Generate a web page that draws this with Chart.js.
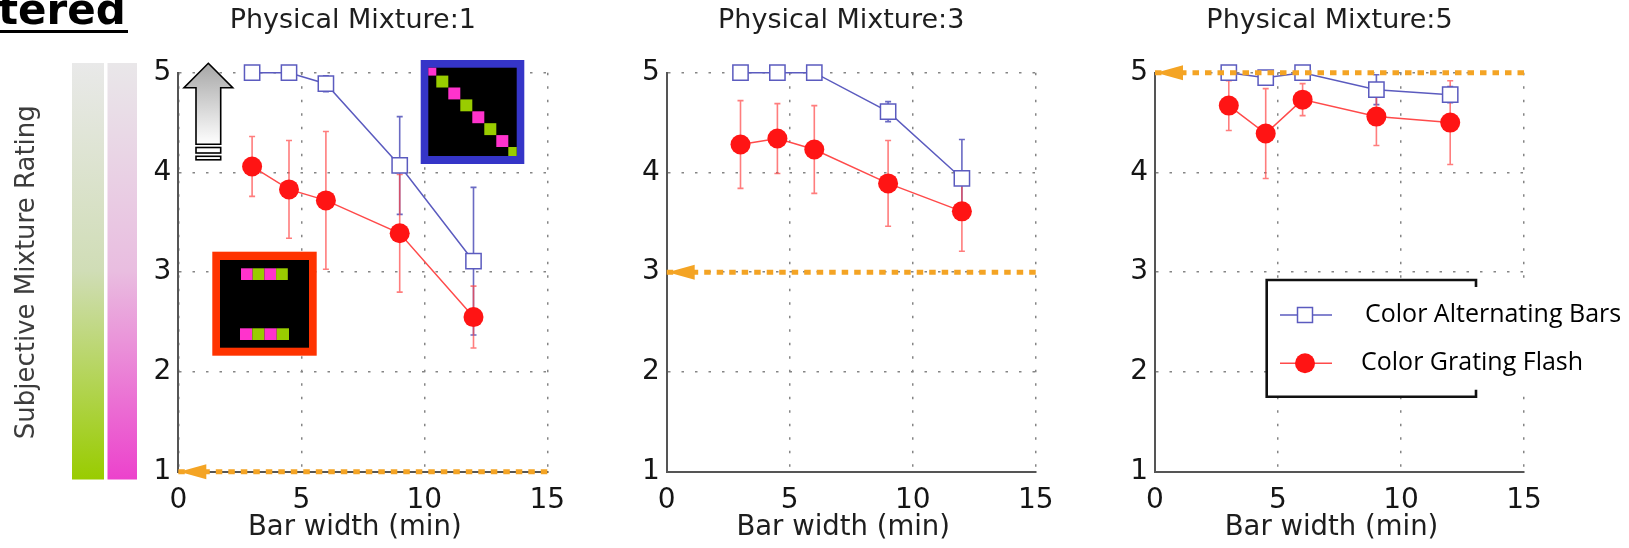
<!DOCTYPE html>
<html>
<head>
<meta charset="utf-8">
<script src="https://cdn.jsdelivr.net/npm/chart.js@4.4.1/dist/chart.umd.min.js"></script>
<style>
  html, body { margin: 0; padding: 0; background: #fff; }
  #wrap { position: relative; width: 1629px; height: 548px; overflow: hidden; }
  #wrap canvas { position: absolute; left: 0; top: 0; }
</style>
</head>
<body>
<div id="wrap">
  <canvas id="c1" width="1629" height="548"></canvas>
  <canvas id="c2" width="1629" height="548"></canvas>
  <canvas id="c3" width="1629" height="548"></canvas>
</div>
<script>
// bar widths (min) on the x axis
const barWidths = [3, 4.5, 6, 9, 12];
const xTicks = [0, 5, 10, 15];
const yTicks = [1, 2, 3, 4, 5];
const panelTitles = ['Physical Mixture:1', 'Physical Mixture:3', 'Physical Mixture:5'];
const seriesNames = ['Color Alternating Bars', 'Color Grating Flash'];

// physical mixture 1
const altBars1 = [5.0, 5.0, 4.89, 4.07, 3.11];
const altBarsErr1 = [0, 0, 0.08, 0.49, 0.74];
const flash1 = [4.06, 3.83, 3.72, 3.39, 2.55];
const flashErr1 = [0.30, 0.49, 0.69, 0.59, 0.31];

// physical mixture 3
const altBars3 = [5.0, 5.0, 5.0, 4.61, 3.94];
const altBarsErr3 = [0, 0, 0, 0.10, 0.39];
const flash3 = [4.28, 4.34, 4.23, 3.89, 3.61];
const flashErr3 = [0.44, 0.35, 0.44, 0.43, 0.40];

// physical mixture 5
const altBars5 = [5.0, 4.95, 5.0, 4.83, 4.78];
const altBarsErr5 = [0.03, 0.05, 0.03, 0.15, 0.08];
const flash5 = [4.67, 4.39, 4.73, 4.56, 4.50];
const flashErr5 = [0.25, 0.45, 0.16, 0.29, 0.42];

// physical mixture level drawn as the orange arrow
const physicalLevels = [1, 3, 5];
const refStart = 0, refEnd = 15;

const BLUE = '#5b5bbf';
const RED = '#ff1414';
const RED_LINE = '#ff4a4a';
const ORANGE = '#f4a424';
const FONT = 'DejaVu Sans';

const panelLeft = [178.3, 666.7, 1155];
const plotW = 369, plotTop = 72.7, plotBottom = 471.7;

function makePanel(idx, alt, altErr, flash, flashErr, extraPlugin) {
  const level = physicalLevels[idx];
  const left = panelLeft[idx];
  const yWidth = idx === 0 ? left : 45;
  const padLeft = idx === 0 ? 0 : left - 45;
  const padRight = 1629 - left - plotW;

  const marks = {
    id: 'marks' + idx,
    beforeDatasetsDraw(chart) {
      const { ctx, scales: { x, y } } = chart;
      [[alt, altErr, 'rgba(80,80,185,0.85)'], [flash, flashErr, 'rgba(255,70,70,0.7)']].forEach(([vals, errs, col]) => {
        ctx.save();
        ctx.strokeStyle = col;
        ctx.lineWidth = 1.6;
        barWidths.forEach((bw, i) => {
          if (!errs[i]) return;
          const px = x.getPixelForValue(bw);
          const y1 = y.getPixelForValue(vals[i] + errs[i]);
          const y2 = y.getPixelForValue(vals[i] - errs[i]);
          ctx.beginPath();
          ctx.moveTo(px, y1); ctx.lineTo(px, y2);
          ctx.moveTo(px - 3, y1); ctx.lineTo(px + 3, y1);
          ctx.moveTo(px - 3, y2); ctx.lineTo(px + 3, y2);
          ctx.stroke();
        });
        ctx.restore();
      });
    },
    afterDatasetsDraw(chart) {
      // arrow head of the physical mixture line
      const { ctx, scales: { x, y }, chartArea } = chart;
      const tx = x.getPixelForValue(refStart) + 1;
      const ty = y.getPixelForValue(level);
      ctx.save();
      ctx.fillStyle = ORANGE;
      ctx.beginPath();
      ctx.moveTo(tx, ty);
      ctx.lineTo(tx + 27, ty - 7.5);
      ctx.lineTo(tx + 27, ty + 7.5);
      ctx.closePath();
      ctx.fill();

      // panel title and x axis title
      const cx = (chartArea.left + chartArea.right) / 2;
      ctx.fillStyle = '#1e1e1e';
      ctx.textAlign = 'center';
      ctx.textBaseline = 'middle';
      ctx.font = '27px "DejaVu Sans"';
      ctx.fillText(panelTitles[idx], cx - 10, 21);
      ctx.font = '27.5px "DejaVu Sans"';
      ctx.fillText('Bar width (min)', cx - 8, 528);
      ctx.restore();
    }
  };

  const pts = vals => barWidths.map((bw, i) => ({ x: bw, y: vals[i] }));
  const plugins = [marks];
  if (extraPlugin) plugins.push(extraPlugin);

  return new Chart(document.getElementById('c' + (idx + 1)), {
    type: 'scatter',
    data: {
      datasets: [
        {
          label: 'physical',
          data: [{ x: refStart, y: level }, { x: refEnd, y: level }],
          showLine: true,
          borderColor: ORANGE,
          borderWidth: 5,
          borderDash: [6.5, 6],
          pointRadius: 0,
          clip: false
        },
        {
          label: seriesNames[1],
          data: pts(flash),
          showLine: true,
          borderColor: RED_LINE,
          borderWidth: 1.5,
          pointStyle: 'circle',
          pointRadius: 10,
          pointBackgroundColor: RED,
          pointBorderColor: RED,
          pointBorderWidth: 0,
          clip: false
        },
        {
          label: seriesNames[0],
          data: pts(alt),
          showLine: true,
          borderColor: BLUE,
          borderWidth: 1.5,
          pointStyle: 'rect',
          pointRadius: 10.8,
          pointBackgroundColor: '#fff',
          pointBorderColor: BLUE,
          pointBorderWidth: 1.5,
          clip: false
        }
      ]
    },
    options: {
      responsive: false,
      animation: false,
      events: [],
      layout: { padding: { left: padLeft, right: padRight, top: plotTop, bottom: 0 } },
      plugins: {
        legend: { display: false },
        tooltip: { enabled: false },
        title: { display: false }
      },
      scales: {
        x: {
          type: 'linear',
          min: 0, max: 15,
          afterBuildTicks: s => { s.ticks = xTicks.map(v => ({ value: v })); },
          afterFit: s => { s.height = 548 - plotBottom; },
          grid: { color: '#858585', lineWidth: 1.5, drawTicks: false },
          border: { display: true, color: '#555', width: 2, dash: [2.5, 11] },
          ticks: { color: '#151515', padding: 12, font: { family: FONT, size: 28 } }
        },
        y: {
          type: 'linear',
          min: 1, max: 5,
          afterBuildTicks: s => { s.ticks = yTicks.map(v => ({ value: v })); },
          afterFit: s => { s.width = yWidth; },
          grid: { color: '#858585', lineWidth: 1.5, drawTicks: false },
          border: { display: true, color: '#555', width: 2, dash: [2.5, 11] },
          ticks: { color: '#151515', padding: 7, font: { family: FONT, size: 28 } },
          title: {
            display: idx === 0, text: 'Subjective Mixture Rating', color: '#3c3c3c',
            font: { family: FONT, size: 26 }, padding: { top: 11.4, bottom: 0 }
          }
        }
      }
    },
    plugins
  });
}

// panel 1 decorations: colour bars, cropped heading, up arrow and stimulus icons
const panel1Art = {
  id: 'panel1Art',
  afterDatasetsDraw(chart) {
    const { ctx } = chart;
    ctx.save();
    let g = ctx.createLinearGradient(0, 63, 0, 479.5);
    g.addColorStop(0, '#e9e9e9'); g.addColorStop(0.5, '#d0ddb6'); g.addColorStop(1, '#99cc00');
    ctx.fillStyle = g; ctx.fillRect(72, 63, 32, 416.5);
    g = ctx.createLinearGradient(0, 63, 0, 479.5);
    g.addColorStop(0, '#e9e7e9'); g.addColorStop(0.5, '#e9bde0'); g.addColorStop(1, '#ec42cc');
    ctx.fillStyle = g; ctx.fillRect(107.5, 63, 29.5, 416.5);

    ctx.fillStyle = '#000';
    ctx.font = 'bold 42px "DejaVu Sans"';
    ctx.textBaseline = 'alphabetic';
    ctx.fillText('tered', -2, 24);
    ctx.fillRect(0, 30, 128, 3);

    // up arrow
    g = ctx.createLinearGradient(0, 63, 0, 145);
    g.addColorStop(0, '#a6a6a6'); g.addColorStop(1, '#ffffff');
    ctx.beginPath();
    ctx.moveTo(208.3, 63.3);
    ctx.lineTo(232.7, 87.7); ctx.lineTo(220.7, 87.7); ctx.lineTo(220.7, 144.3);
    ctx.lineTo(196, 144.3); ctx.lineTo(196, 87.7); ctx.lineTo(184, 87.7);
    ctx.closePath();
    ctx.fillStyle = g; ctx.fill();
    ctx.strokeStyle = '#000'; ctx.lineWidth = 1.6; ctx.stroke();
    ctx.fillStyle = '#fff';
    ctx.fillRect(196, 147.5, 24.7, 5.5); ctx.strokeRect(196, 147.5, 24.7, 5.5);
    ctx.fillRect(196, 156.3, 24.7, 3.5); ctx.strokeRect(196, 156.3, 24.7, 3.5);

    const PINK = '#ff33cc', GREEN = '#99cc00';
    // diagonal icon with blue frame
    ctx.fillStyle = '#3535c8'; ctx.fillRect(420.7, 60, 103.6, 104);
    ctx.fillStyle = '#000'; ctx.fillRect(428.3, 67.7, 88.4, 88.3);
    ctx.save();
    ctx.beginPath(); ctx.rect(428.3, 67.7, 88.4, 88.3); ctx.clip();
    for (let k = 0; k < 8; k++) {
      ctx.fillStyle = k % 2 ? GREEN : PINK;
      ctx.fillRect(428.3 - 4 + 12 * k, 67.7 - 4 + 11.9 * k, 12, 11.9);
    }
    ctx.restore();
    // two-row icon with red frame
    ctx.fillStyle = '#ff3300'; ctx.fillRect(212.3, 251.7, 104.4, 104);
    ctx.fillStyle = '#000'; ctx.fillRect(220, 260, 89, 87.7);
    for (let k = 0; k < 4; k++) {
      ctx.fillStyle = k % 2 ? GREEN : PINK;
      ctx.fillRect(241 + 11.7 * k, 268.3, 11.7, 11.7);
      ctx.fillRect(240 + 12.25 * k, 328.3, 12.25, 11.7);
    }
    ctx.restore();
  }
};

// panel 3 legend box
const panel3Legend = {
  id: 'panel3Legend',
  afterDraw(chart) {
    const { ctx } = chart;
    const L = 1266.7, T = 280, R = 1476, B = 396.7;
    ctx.save();
    ctx.fillStyle = '#fff';
    ctx.fillRect(L, T, R - L, B - T);
    ctx.fillRect(R - 6, T + 7, 1629 - R + 6, B - T - 14);
    ctx.strokeStyle = '#111'; ctx.lineWidth = 2.6;
    ctx.beginPath();
    ctx.moveTo(R, T + 7); ctx.lineTo(R, T); ctx.lineTo(L, T); ctx.lineTo(L, B); ctx.lineTo(R, B); ctx.lineTo(R, B - 7);
    ctx.stroke();

    const rows = [
      { y: 315, text: seriesNames[0], tx: 1365 },
      { y: 363.3, text: seriesNames[1], tx: 1361 }
    ];
    ctx.lineWidth = 1.5;
    ctx.strokeStyle = BLUE;
    ctx.beginPath(); ctx.moveTo(1280, rows[0].y); ctx.lineTo(1332, rows[0].y); ctx.stroke();
    ctx.fillStyle = '#fff';
    ctx.fillRect(1297.5, rows[0].y - 7.5, 15, 15);
    ctx.strokeRect(1297.5, rows[0].y - 7.5, 15, 15);
    ctx.strokeStyle = RED_LINE;
    ctx.beginPath(); ctx.moveTo(1280, rows[1].y); ctx.lineTo(1332, rows[1].y); ctx.stroke();
    ctx.fillStyle = RED;
    ctx.beginPath(); ctx.arc(1305, rows[1].y, 10, 0, Math.PI * 2); ctx.fill();

    ctx.fillStyle = '#000';
    ctx.font = '25px "Open Sans"';
    ctx.textBaseline = 'middle';
    rows.forEach(r => ctx.fillText(r.text, r.tx, r.y));
    ctx.restore();
  }
};

makePanel(0, altBars1, altBarsErr1, flash1, flashErr1, panel1Art);
makePanel(1, altBars3, altBarsErr3, flash3, flashErr3, null);
makePanel(2, altBars5, altBarsErr5, flash5, flashErr5, panel3Legend);
</script>
</body>
</html>
